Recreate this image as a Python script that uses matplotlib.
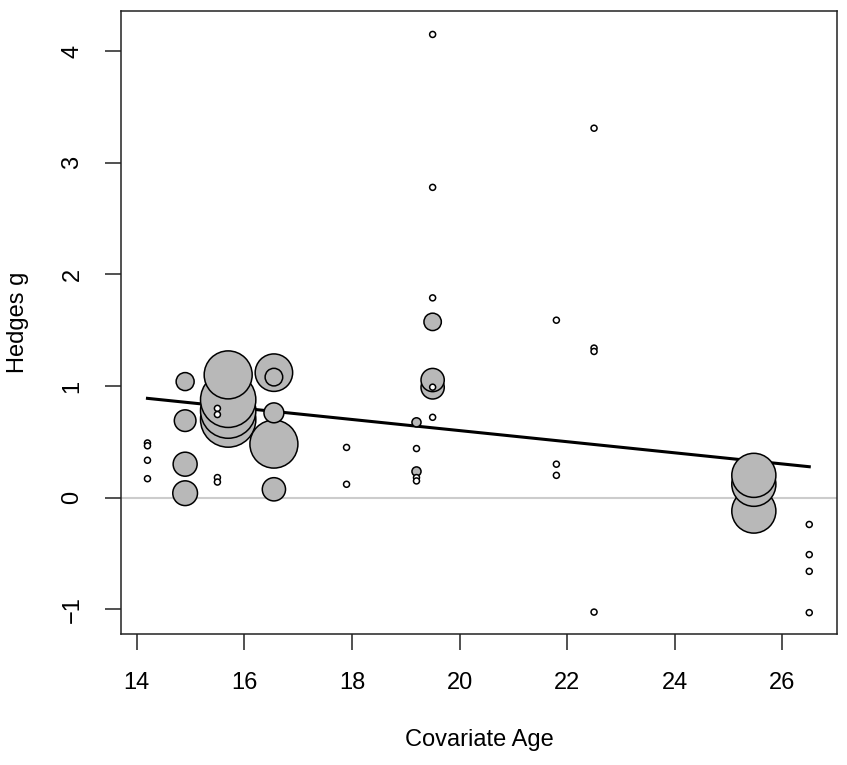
import matplotlib
matplotlib.use('Agg')
import matplotlib.pyplot as plt
import numpy as np

plt.rcParams['font.family'] = ['Liberation Sans', 'DejaVu Sans']

# Study-level data: covariate age, Hedges g, relative weight
age = [14.2, 14.2, 14.2, 14.2,
       14.9, 14.9, 14.9, 14.9,
       15.5, 15.5, 15.5, 15.5,
       15.7, 15.7, 15.7, 15.7,
       16.55, 16.55, 16.55, 16.55, 16.55,
       17.9, 17.9,
       19.2, 19.2, 19.2, 19.2, 19.2,
       19.5, 19.5, 19.5, 19.5, 19.5, 19.5, 19.5, 19.5,
       21.8, 21.8, 21.8,
       22.5, 22.5, 22.5, 22.5,
       25.47, 25.47, 25.47,
       26.5, 26.5, 26.5, 26.5]
hedges_g = [0.49, 0.465, 0.335, 0.17,
            1.04, 0.69, 0.30, 0.04,
            0.80, 0.745, 0.18, 0.14,
            0.70, 0.78, 0.877, 1.10,
            1.12, 1.08, 0.76, 0.48, 0.075,
            0.45, 0.12,
            0.675, 0.44, 0.235, 0.18, 0.15,
            4.15, 2.78, 1.79, 1.575, 0.988, 1.054, 0.99, 0.72,
            1.59, 0.30, 0.20,
            3.31, 1.34, 1.31, -1.025,
            -0.12, 0.12, 0.20,
            -0.24, -0.51, -0.66, -1.03]
weight = [1, 1, 1, 1,
          9, 13, 16, 17,
          1, 1, 1, 1,
          85, 85, 85, 64,
          39, 8.6, 11, 64, 15,
          1, 1,
          2.3, 1, 2.3, 1, 1,
          1, 1, 1, 8.4, 15, 15, 1, 1,
          1, 1, 1,
          1, 1, 1, 1,
          54, 54, 54,
          1, 1, 1, 1]

# meta-regression fit: intercept, slope
coef = [1.597, -0.0498]

age = np.array(age)
hedges_g = np.array(hedges_g)
weight = np.array(weight, dtype=float)

fig = plt.figure(figsize=(8.47, 7.65), dpi=100)
ax = fig.add_axes([121 / 847, 1 - 634.3 / 765, (836.7 - 121) / 847, (634.3 - 11) / 765])

# reference line at zero
ax.axhline(0, color='#cccccc', linewidth=1.5, zorder=1)

# regression line over the observed covariate range
xs = np.array([age.min(), age.max()])
ax.plot(xs, coef[0] + coef[1] * xs, color='black', linewidth=2.2, zorder=2)

# bubbles: radius ~ sqrt(weight), biggest drawn first
radius_px = 3 * np.sqrt(weight)
sizes = (1.44 * radius_px) ** 2
order = np.argsort(-weight, kind='stable')
fills = np.where(weight < 2, 'white', '#b8b8b8')
ax.scatter(age[order], hedges_g[order], s=sizes[order], c=fills[order],
           edgecolors='black', linewidths=1.1, zorder=3)

ax.set_xlim(13.708, 27.01)
ax.set_ylim(-1.224, 4.36)
ax.set_xticks(range(14, 27, 2))
ax.set_yticks(range(-1, 5))
ax.set_yticklabels([str(v).replace('-', '\u2212') for v in range(-1, 5)],
                   rotation=90, va='center')

ax.tick_params(axis='both', direction='out', length=11.5, width=1.1,
               labelsize=17, pad=15.5, color='#222222')
for sp in ax.spines.values():
    sp.set_linewidth(1.1)
    sp.set_color('#222222')

fig.text(478.9 / 847, 1 - 740 / 765, 'Covariate Age', ha='center', va='center', fontsize=17)
fig.text(18 / 847, 1 - 322.7 / 765, 'Hedges g', ha='center', va='center',
         rotation=90, fontsize=17)

fig.savefig('out.png', dpi=100, facecolor='white')
